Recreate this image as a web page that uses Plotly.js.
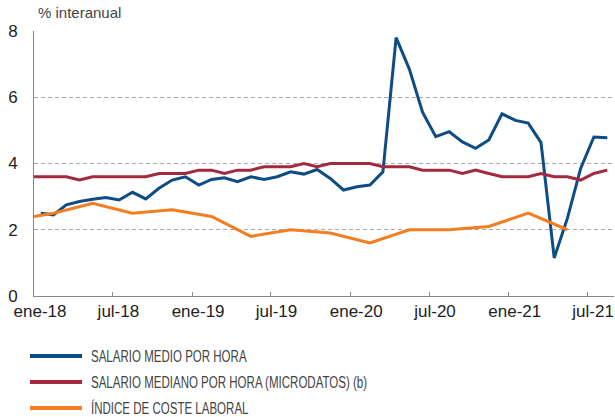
<!DOCTYPE html>
<html>
<head>
<meta charset="utf-8">
<script src="https://cdn.plot.ly/plotly-3.0.1.min.js"></script>
<style>
  html, body { margin: 0; padding: 0; background: #fff; }
  #chart { width: 615px; height: 417px; }
</style>
</head>
<body>
<div id="chart"></div>
<script>
// Months (first day of each month), from dic-17 to ago-21
const months = [
    '2017-12',
    '2018-01', '2018-02', '2018-03', '2018-04', '2018-05', '2018-06',
    '2018-07', '2018-08', '2018-09', '2018-10', '2018-11', '2018-12',
    '2019-01', '2019-02', '2019-03', '2019-04', '2019-05', '2019-06',
    '2019-07', '2019-08', '2019-09', '2019-10', '2019-11', '2019-12',
    '2020-01', '2020-02', '2020-03', '2020-04', '2020-05', '2020-06',
    '2020-07', '2020-08', '2020-09', '2020-10', '2020-11', '2020-12',
    '2021-01', '2021-02', '2021-03', '2021-04', '2021-05', '2021-06',
    '2021-07', '2021-08'
];

// Quarters (first month of each quarter)
const quarters = [
    '2017-10',
    '2018-01', '2018-04', '2018-07', '2018-10',
    '2019-01', '2019-04', '2019-07', '2019-10',
    '2020-01', '2020-04', '2020-07', '2020-10',
    '2021-01', '2021-04'
];

// Salario medio por hora (ene-18 .. ago-21)
const salario_medio = [
    2.50, 2.45, 2.75, 2.85, 2.92, 2.97, 2.90, 3.13, 2.93, 3.25, 3.50, 3.60,
    3.35, 3.52, 3.57, 3.45, 3.60, 3.52, 3.60, 3.75, 3.68, 3.82, 3.55, 3.20,
    3.30, 3.35, 3.75, 7.80, 6.85, 5.55, 4.81, 4.96, 4.65, 4.46, 4.71, 5.50,
    5.30, 5.22, 4.63, 1.15, 2.35, 3.85, 4.80, 4.78
];

// Salario mediano por hora, microdatos (dic-17 .. ago-21)
const salario_mediano = [
    3.6,
    3.6, 3.6, 3.6, 3.5, 3.6, 3.6, 3.6, 3.6, 3.6, 3.7, 3.7, 3.7,
    3.8, 3.8, 3.7, 3.8, 3.8, 3.9, 3.9, 3.9, 4.0, 3.9, 4.0, 4.0,
    4.0, 4.0, 3.9, 3.9, 3.9, 3.8, 3.8, 3.8, 3.7, 3.8, 3.7, 3.6,
    3.6, 3.6, 3.7, 3.6, 3.6, 3.5, 3.7, 3.8
];

// Indice de coste laboral, trimestral (IV-17 .. II-21)
const coste_laboral = [
    2.3,
    2.5, 2.8, 2.5, 2.6,
    2.4, 1.8, 2.0, 1.9,
    1.6, 2.0, 2.0, 2.1,
    2.5, 2.0
];

const tick_dates = ['2018-01-01', '2018-07-01', '2019-01-01', '2019-07-01',
                    '2020-01-01', '2020-07-01', '2021-01-01', '2021-07-01'];
const tick_labels = ['ene-18', 'jul-18', 'ene-19', 'jul-19',
                     'ene-20', 'jul-20', 'ene-21', 'jul-21'];

const series_names = [
    'SALARIO MEDIO POR HORA',
    'SALARIO MEDIANO POR HORA (MICRODATOS) (b)',
    'ÍNDICE DE COSTE LABORAL'
];
const series_colors = ['#0e4c86', '#a3293f', '#f47d20'];

function draw_chart() {
    const data = [
        {
            x: months.slice(1), y: salario_medio,
            xperiod: 'M1', xperiodalignment: 'middle',
            mode: 'lines', name: series_names[0],
            line: { color: series_colors[0], width: 3 }
        },
        {
            x: months, y: salario_mediano,
            xperiod: 'M1', xperiodalignment: 'middle',
            mode: 'lines', name: series_names[1],
            line: { color: series_colors[1], width: 3 }
        },
        {
            x: quarters, y: coste_laboral,
            xperiod: 'M3', xperiodalignment: 'middle',
            mode: 'lines', name: series_names[2],
            line: { color: series_colors[2], width: 3 }
        }
    ];

    // Hand-made legend below the plot
    const shapes = [];
    const annotations = [{
        xref: 'paper', yref: 'paper', x: 0.003, y: 1.0, yshift: 8,
        xanchor: 'left', yanchor: 'bottom', showarrow: false,
        text: '% interanual',
        font: { family: 'Liberation Sans, Arial, sans-serif', size: 15, color: '#444' }
    }];
    const legend_rows = [356, 382, 408];
    series_names.forEach((name, i) => {
        const y = 1 - (legend_rows[i] - 31) / 265;
        shapes.push({
            type: 'line', xref: 'paper', yref: 'paper',
            x0: (30 - 34) / 580, x1: (82 - 34) / 580, y0: y, y1: y,
            line: { color: series_colors[i], width: 4 }
        });
        annotations.push({
            xref: 'paper', yref: 'paper', x: (89 - 34) / 580, y: y,
            xanchor: 'left', yanchor: 'middle', align: 'left', showarrow: false,
            text: name,
            font: { family: 'Liberation Sans, Arial, sans-serif', size: 16, color: '#444' }
        });
    });

    const layout = {
        width: 615, height: 417,
        margin: { l: 34, r: 1, t: 31, b: 121 },
        paper_bgcolor: '#fff', plot_bgcolor: '#fff',
        showlegend: false,
        font: { family: 'Liberation Sans, Arial, sans-serif', size: 17, color: '#222' },
        xaxis: {
            type: 'date',
            range: ['2018-01-01', '2021-09-01'],
            tickmode: 'array', tickvals: tick_dates, ticktext: tick_labels,
            ticks: 'inside', ticklen: 4, tickcolor: '#888', tickwidth: 1,
            ticklabelshift: 6,
            showgrid: false, zeroline: false,
            showline: true, linecolor: '#888', linewidth: 1
        },
        yaxis: {
            range: [0, 8], dtick: 2,
            showgrid: true, gridcolor: '#aaa', griddash: '4px,3px', gridwidth: 1,
            zeroline: false, showline: true, linecolor: '#888', linewidth: 1,
            ticks: '', ticklabelstandoff: 12
        },
        shapes: shapes,
        annotations: annotations
    };

    Plotly.newPlot('chart', data, layout, { displayModeBar: false, staticPlot: true })
        .then(condenseLegendText);
}

// The reference legend uses a condensed face; squeeze the glyphs horizontally
function condenseLegendText() {
    const texts = document.querySelectorAll('#chart .annotation-text');
    texts.forEach(t => {
        if (!series_names.includes(t.textContent)) return;
        const len = t.getComputedTextLength();
        t.setAttribute('textLength', (len * 0.72).toFixed(1));
        t.setAttribute('lengthAdjust', 'spacingAndGlyphs');
    });
}

draw_chart();
</script>
</body>
</html>
